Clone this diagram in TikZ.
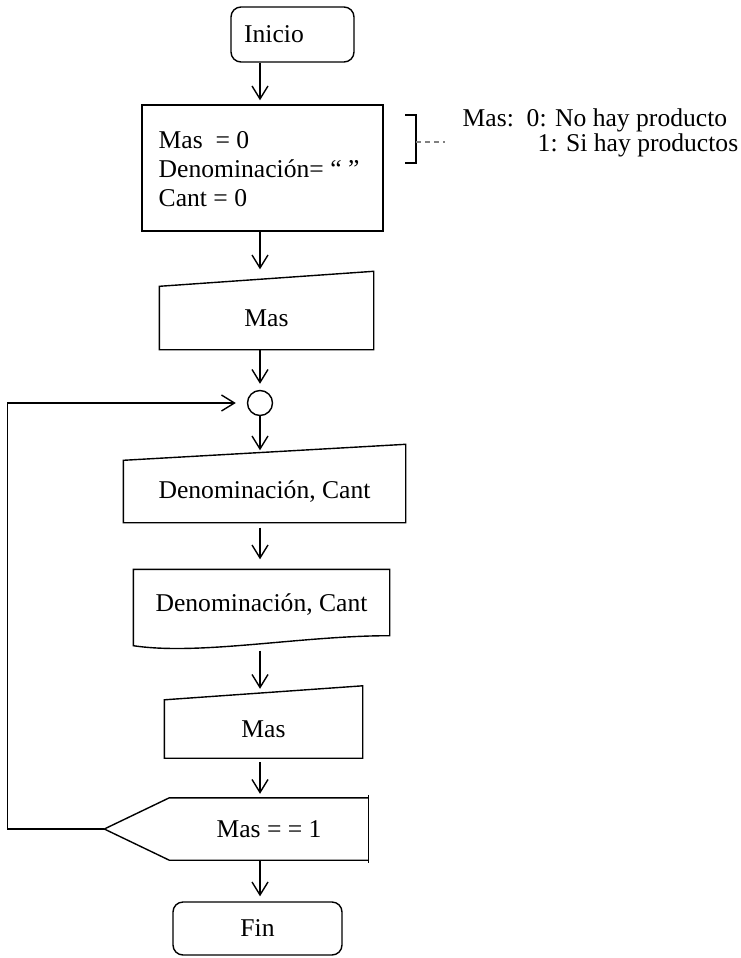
\documentclass[tikz,border=0pt]{standalone}
\usepackage{fontspec}
\setmainfont{Liberation Serif}
\usetikzlibrary{arrows.meta}
\tikzset{>={Straight Barb[length=6.5pt,width=8pt]}}

\begin{document}
\begin{tikzpicture}[x=0.5pt,y=-0.5pt,line width=0.7pt,
    font=\fontsize{12.8}{14.5}\selectfont,
    caja/.style={rectangle,inner sep=0pt},
    extremo/.style={caja,draw,rounded corners=5pt}]
  \useasboundingbox (0,0) rectangle (740,958);

  % nodos
  \node[extremo,minimum width=61.5pt,minimum height=27.5pt,
        label={[xshift=-9.25pt]center:Inicio}] (ini) at (292.5,34.5) {};
  \node[caja,draw,minimum width=120.5pt,minimum height=63pt] (asig) at (262.5,168) {};
  \node[anchor=west,align=left,inner sep=0pt] (asigtxt) at (158,169)
    {Mas\ \ = 0\\Denominación= “ ”\\Cant = 0};
  \node[anchor=west,align=left,inner sep=0pt,
        font=\fontsize{12.8}{12.5}\selectfont] (nota) at (462,132.5)
    {Mas:\ \ 0: No hay producto\\\hspace*{37.5pt}1: Si hay productos};
  \node[caja,minimum width=106.5pt,minimum height=31pt] (in1) at (266.5,318) {Mas};
  \node[circle,draw,inner sep=0pt,minimum size=12.5pt] (circ) at (260,403) {};
  \node[caja,minimum width=140.5pt,minimum height=30.5pt] (in2) at (264.5,491.5) {Denominación, Cant};
  \node[caja,minimum width=127.5pt,minimum height=35pt] (doc) at (261.5,605) {Denominación, Cant};
  \node[caja,minimum width=98.5pt,minimum height=28.5pt] (in3) at (263.5,729) {Mas};
  \node[caja,minimum width=99pt,minimum height=30.5pt] (dec) at (269,829) {Mas = = 1};
  \coordinate (punta) at ([xshift=-32.5pt]dec.west);
  \node[extremo,minimum width=84.5pt,minimum height=26.5pt] (fin) at (257.5,928.5) {Fin};

  % contornos
  \draw (in1.south west) -- (in1.south east) -- ([yshift=7.5pt]in1.north east) -- (in1.north west) -- cycle;
  \draw (in2.south west) -- (in2.south east) -- ([yshift=8pt]in2.north east) -- (in2.north west) -- cycle;
  \draw (in3.south west) -- (in3.south east) -- ([yshift=7pt]in3.north east) -- (in3.north west) -- cycle;
  \draw (doc.north west) -- (doc.north east) -- ([yshift=2.5pt]doc.south east)
    .. controls ([xshift=19.25pt,yshift=2.5pt]doc.south) and ([xshift=-30.75pt,yshift=-7.5pt]doc.south)
    .. ([yshift=-2.5pt]doc.south west) -- cycle;
  \draw (dec.north east) -- (dec.north west) -- (punta) -- (dec.south west) -- (dec.south east);
  \draw ([yshift=1.5pt]dec.north east) -- ([yshift=-1.5pt]dec.south east);

  % llave del comentario
  \draw (405,115) -- (416,115) -- (416,163) -- (405,163);
  \coordinate (llave) at (416,142);
  \draw[gray,dash pattern=on 2.5pt off 2pt,shorten >=8.5pt] (llave) -- (llave -| nota.west);

  % flechas
  \draw[->,shorten >=2pt] (ini.south -| circ) -- (asig.north -| circ);
  \draw[->,shorten >=8.5pt] (asig.south -| circ) -- (in1.north -| circ);
  \draw[->,shorten >=3pt] (in1.south -| circ) -- (circ.north);
  \draw[->,shorten >=5pt] (circ.south) -- (in2.north -| circ);
  \draw[->,shorten <=2.5pt,shorten >=5pt] (in2.south -| circ) -- (doc.north -| circ);
  \draw[->,shorten <=5pt,shorten >=5.5pt] (doc.south -| circ) -- (in3.north -| circ);
  \draw[->,shorten <=2pt,shorten >=2pt] (in3.south -| circ) -- (dec.north -| circ);
  \draw[->,shorten >=2.5pt] (dec.south -| circ) -- (fin.north -| circ);
  \draw[->,shorten >=5.5pt] (punta) -- ++(-97,0) |- (circ.west);
\end{tikzpicture}
\end{document}
